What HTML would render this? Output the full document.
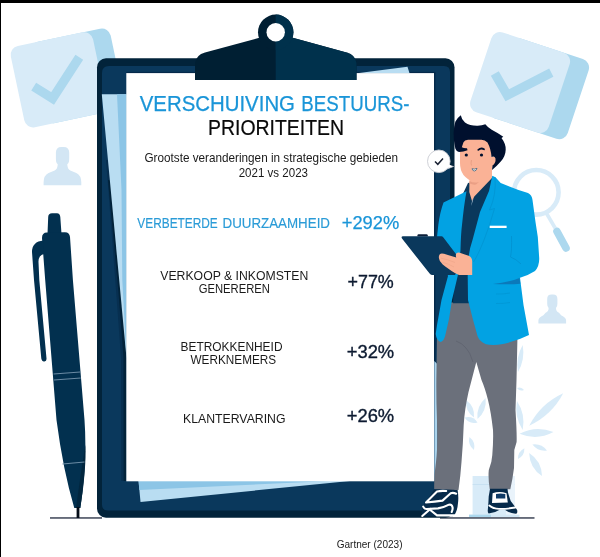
<!DOCTYPE html>
<html lang="nl">
<head>
<meta charset="utf-8">
<title>Verschuiving bestuursprioriteiten</title>
<style>
html,body{margin:0;padding:0;background:#fff;}
body{width:600px;height:557px;overflow:hidden;position:relative;font-family:"Liberation Sans",sans-serif;}
svg{position:absolute;left:0;top:0;display:block;}
text{font-family:"Liberation Sans",sans-serif;}
</style>
</head>
<body>
<svg width="600" height="557" viewBox="0 0 600 557">
<rect x="0" y="0" width="600" height="557" fill="#ffffff"/>

<!-- BG-DECOR -->
<g id="decor">
<g transform="translate(57.1 79.6) rotate(-11.9)"><rect x="-20" y="-41" width="81.500" height="83" rx="9" fill="#acd8ee"/><rect x="-40.500" y="-41" width="84" height="83" rx="9" fill="#d8ebf8"/></g>
<path d="M33.7 86.7 L52.6 98.5 L79.3 57.3" fill="none" stroke="#acd8ee" stroke-width="9.200"/>
<g transform="translate(521.1 81.75) rotate(18.4)"><rect x="-23" y="-41" width="83.500" height="84" rx="9" fill="#acd8ee"/><rect x="-42" y="-41" width="82.500" height="84" rx="9" fill="#d8ebf8"/></g>
<path d="M494.8 73.5 L507.3 95.2 L551.3 72.700" fill="none" stroke="#acd8ee" stroke-width="9.200"/>
<path d="M55.9 152.6 Q55.9 147.0 61.4 147.0 L63.6 147.0 Q69.2 147.0 69.2 152.6 L69.2 158.4 Q69.2 163.0 67.3 164.0 Q67.3 169.4 70.3 170.4 L76.3 172.9 Q81.3 175.4 81.3 182.2 L81.3 185.2 L43.6 185.2 L43.6 182.2 Q43.6 175.4 48.6 172.9 L54.7 170.4 Q57.7 169.4 57.7 164.0 Q55.9 163.0 55.9 158.4 Z" fill="#d3e6f4"/>
<path d="M547.2 298.9 Q547.2 294.6 551.5 294.6 L553.1 294.6 Q557.4 294.6 557.4 298.9 L557.4 303.8 Q557.4 307.1 556.0 308.1 Q556.0 311.7 559.0 312.7 L561.1 315.2 Q566.1 317.7 566.1 320.4 L566.1 323.4 L538.4 323.4 L538.4 320.4 Q538.4 317.7 543.4 315.2 L545.6 312.7 Q548.6 311.7 548.6 308.1 Q547.2 307.1 547.2 303.8 Z" fill="#d3e6f4"/>
<circle cx="536.3" cy="192.3" r="22.3" fill="none" stroke="#d8ebf8" stroke-width="4.6"/>
<path d="M546.3 213 L556 229.500" stroke="#d8ebf8" stroke-width="3.6" fill="none"/>
<path d="M557 231.500 L566 248" stroke="#acd8ee" stroke-width="7.6" stroke-linecap="round" fill="none"/>
<g fill="#d8ebf8">
<path d="M529.2 425.7 Q551.7 415.3 563.2 393.3 Q540.7 403.7 529.2 425.7 Z"/>
<path d="M519.5 433.8 Q536.9 440.9 553.5 432.1 Q536.1 425.0 519.5 433.8 Z"/>
<path d="M518.0 372.0 Q525.3 359.4 522.7 345.0 Q515.4 357.6 518.0 372.0 Z"/>
<path d="M517.0 401.0 Q514.0 416.7 522.7 430.0 Q525.7 414.3 517.0 401.0 Z"/>
<path d="M532.4 444.5 Q538.0 451.7 547.0 450.5 Q541.4 443.3 532.4 444.5 Z"/>
<path d="M529.2 453.0 Q529.5 467.9 542.0 476.0 Q541.7 461.1 529.2 453.0 Z"/>
<path d="M518.0 459.0 Q524.6 455.7 524.4 448.3 Q517.8 451.6 518.0 459.0 Z"/>
<path d="M517.0 388.0 Q519.7 391.9 524.0 390.0 Q521.3 386.1 517.0 388.0 Z"/>
<path d="M466.0 400.0 Q465.0 411.1 474.0 417.6 Q475.0 406.5 466.0 400.0 Z"/>
<path d="M485.6 398.0 Q476.0 406.3 477.5 419.0 Q487.1 410.7 485.6 398.0 Z"/>
<path d="M464.5 417.6 Q469.3 424.7 477.5 422.4 Q472.7 415.3 464.5 417.6 Z"/>
<path d="M469.4 437.0 Q467.5 445.0 474.0 450.0 Q475.9 442.0 469.4 437.0 Z"/>
</g>
<rect x="472.600" y="476" width="42" height="40" fill="#d8ebf8"/>
<rect x="472.600" y="484" width="42" height="0.8" fill="#c5dff0"/>
<rect x="506" y="476" width="8.600" height="40" fill="#e9f3fb"/>
<rect x="469" y="514.700" width="50.500" height="2.500" fill="#d3e8f6"/>
<rect x="469" y="514.700" width="22" height="2.500" fill="#acd8ee"/>
</g>

<!-- GROUND -->
<rect x="50" y="517.100" width="52" height="1.700" fill="#555b6b"/>
<rect x="440" y="517.100" width="94.500" height="1.700" fill="#555b6b"/>

<!-- PEN -->
<g id="pen">
  <path d="M47.500 234 L48.200 217 Q48.400 213.300 52 213.300 L57 213.200 Q60 213.200 60.300 217 L61.500 234 Z" fill="#02304f"/>
  <path d="M42 238 Q42 232.500 47 232.500 L65 232.300 Q69.500 232.300 70 237 L72.900 280 L84.500 420 Q87.500 462 80.300 508 L74.300 508 Q63 470 56.500 420 L45.200 280 Z" fill="#02304f"/>
  <path d="M43.500 240.500 Q32 241.500 32 252 L34 280 L41.300 358.500 Q42 362 44.500 361.500 Q46.700 361 46.500 358.500 L39.300 280 L38.500 262 Q38.300 255.500 44 254 Z" fill="#02304f"/>
  <path d="M80.300 508 Q86.500 468 85.300 445 Q80 478 76 508 Z" fill="#01263f"/>
  <path d="M53.500 374 L80.300 372 M54 380 L80.800 378 M62.500 464 L84.500 462" stroke="#6a8aa3" stroke-width="1.200" fill="none"/>
  <rect x="76.600" y="507" width="2.800" height="11" fill="#050d18"/>
</g>

<!-- BOARD -->
<g id="board">
  <rect x="97" y="58.300" width="357.500" height="459.400" rx="9" ry="9" fill="#02233a"/>
  <path d="M102 73 Q102 66 109 66 L444 66 Q450 66 450 72 L450 510.500 L108 510.500 Q102 510.500 102 504.500 Z" fill="#0a385c"/>
  <!-- shadow wedge + blue papers -->
  <path d="M106 160 L116 290 L121 358 L121.300 481 L126.500 481 L126.500 160 Z" fill="#072f50"/>
  <path d="M108 180 L118.300 290 L123.500 358 L123.700 481 L126.500 481 L126.500 180 Z" fill="#02233a"/>
  <path d="M101.800 94.300 L126.500 94.300 L126.500 358 Z" fill="#b9ddf2"/>
  <path d="M117 94.300 L126.500 94.300 L126.500 358 L122.300 280 L121.500 190 Z" fill="#8cc5e6"/>
  <path d="M138.500 480 L360 480 L140.500 502 Z" fill="#b9ddf2"/>
  <path d="M138.500 480 L352 480 L139.300 490 Z" fill="#8cc5e6"/>
  <rect x="126.300" y="71.900" width="309.200" height="1.500" fill="#04294a"/>
  <path d="M357 73.300 L407.500 66.800 L409.500 73.300 Z" fill="#b9ddf2"/>
  <rect x="126.300" y="73.100" width="307.700" height="408.200" fill="#ffffff"/>
  <rect x="434" y="72.800" width="1.500" height="408.500" fill="#04294a"/>
  <!-- clip -->
  <path d="M195 80 L195 63 Q196 55 205 52.500 L262 37 L290 37 L346.500 52.500 Q355.500 55 356.500 63 L356.500 80 Z" fill="#001f33"/>
  <circle cx="275.700" cy="32.300" r="17.700" fill="#001f33"/>
  <path d="M275.700 80 L275.700 37 L290 37 L346.500 52.500 Q355.500 55 356.500 63 L356.500 80 Z" fill="#00314c"/>
  <path d="M275.700 14.600 A17.700 17.700 0 0 1 275.700 50 Z" fill="#00314c"/>
  <circle cx="275.700" cy="32.300" r="9.200" fill="#ffffff"/>
</g>

<!-- TEXT -->
<g id="txt">
  <text y="110.700" font-size="22.200" fill="#1a95d8" stroke="#1a95d8" stroke-width="0.25"><tspan x="139.700" textLength="155.300" lengthAdjust="spacingAndGlyphs">VERSCHUIVING</tspan> <tspan x="301.300" textLength="108.200" lengthAdjust="spacingAndGlyphs">BESTUURS-</tspan></text>
  <text x="208" y="134.800" font-size="22.200" fill="#0a0a0a" stroke="#0a0a0a" stroke-width="0.2" textLength="136" lengthAdjust="spacingAndGlyphs">PRIORITEITEN</text>
  <text x="144.500" y="162.100" font-size="12.400" fill="#1a1a1a" textLength="253.500" lengthAdjust="spacingAndGlyphs">Grootste veranderingen in strategische gebieden</text>
  <text x="238.700" y="177.100" font-size="12.400" fill="#1a1a1a" textLength="69.300" lengthAdjust="spacingAndGlyphs">2021 vs 2023</text>
  <text y="228.100" font-size="14" fill="#2a9bd7" stroke="#2a9bd7" stroke-width="0.15"><tspan x="137.300" textLength="80.500" lengthAdjust="spacingAndGlyphs">VERBETERDE</tspan> <tspan x="222.500" textLength="107.500" lengthAdjust="spacingAndGlyphs">DUURZAAMHEID</tspan></text>
  <text x="341.700" y="229.400" font-size="18.700" fill="#1a95d8" stroke="#1a95d8" stroke-width="0.25" textLength="57.600" lengthAdjust="spacingAndGlyphs">+292%</text>
  <text x="160.300" y="280.400" font-size="12.600" fill="#1a1a1a" textLength="148" lengthAdjust="spacingAndGlyphs">VERKOOP &amp; INKOMSTEN</text>
  <text x="198.700" y="293.400" font-size="12.600" fill="#1a1a1a" textLength="71.300" lengthAdjust="spacingAndGlyphs">GENEREREN</text>
  <text x="347.500" y="287.900" font-size="18.600" fill="#0c1a30" stroke="#0c1a30" stroke-width="0.35" textLength="46.300" lengthAdjust="spacingAndGlyphs">+77%</text>
  <text x="180.500" y="351.100" font-size="12.600" fill="#1a1a1a" textLength="102" lengthAdjust="spacingAndGlyphs">BETROKKENHEID</text>
  <text x="190.500" y="364.100" font-size="12.600" fill="#1a1a1a" textLength="85.700" lengthAdjust="spacingAndGlyphs">WERKNEMERS</text>
  <text x="346.700" y="358.400" font-size="18.600" fill="#0c1a30" stroke="#0c1a30" stroke-width="0.35" textLength="47.500" lengthAdjust="spacingAndGlyphs">+32%</text>
  <text x="183" y="422.900" font-size="12.600" fill="#1a1a1a" textLength="102.500" lengthAdjust="spacingAndGlyphs">KLANTERVARING</text>
  <text x="346.700" y="422.400" font-size="18.600" fill="#0c1a30" stroke="#0c1a30" stroke-width="0.35" textLength="47.500" lengthAdjust="spacingAndGlyphs">+26%</text>
  <text x="336.700" y="547.800" font-size="10.900" fill="#1a1a1a" textLength="65.800" lengthAdjust="spacingAndGlyphs">Gartner (2023)</text>
</g>

<!-- MAN -->
<g id="man">
  <!-- light strip left of leg -->
  <path d="M434.300 361 L437.300 364 L437.500 481.300 L434.300 481.300 Z" fill="#a9d3ec"/>
  <!-- pants -->
  <path d="M448 302.500 L500 302.500 L517.500 335 L516.500 380 L515.500 410 Q517 435 516.600 442 L514.300 450 L514 468 Q512.500 480 510.300 489.300 L489.700 489 Q488 478 488.800 470 Q492 462 492.300 455 Q493.500 440 493 430 Q491 412 488 400 Q485 388 481.500 380 L476.300 362 L468.500 392 Q464.500 410 463.700 425 Q463 445 461.500 462 Q460.500 476 458.500 490 L434.200 489.500 Q433.800 476 436 462 Q438 445 437 420 Q436 395 436.500 370 L437 335 Z" fill="#6b707b"/>
  <path d="M456 341 Q462 343 466 348 Q470 352 473 362" fill="none" stroke="#5e626f" stroke-width="0.800"/>
  <!-- left shoe -->
  <path d="M434.200 489.200 L457.600 490 Q458.800 497 458 503 Q457.500 509 456 512 Q455 515 453 516.300 L421.900 516.300 Q421.500 511 422.300 506.600 Q424 504 426 502 Z" fill="#062a4a"/>
  <g fill="none" stroke="#ffffff" stroke-width="2.100" stroke-linecap="round" stroke-linejoin="round">
    <path d="M446.200 491 Q441 490.500 437 491.500 L426 502.500 Q435 501.800 442.500 500.600 L450.700 493.300 Q453 492.300 456.200 493.700"/>
    <path d="M423.200 506.600 Q424.500 509.300 427 509 L438 508.400 Q445 507 449 504.700 Q452 504 452.600 507.500 Q452.800 510 451.700 512"/>
    <path d="M422.300 516 L430.600 508.800"/>
    <path d="M430.600 510.200 L437 515.400 L455 515.400"/>
  </g>
  <!-- right shoe -->
  <path d="M490 488.700 L507.500 488.700 L508 492.400 Q509 496 510.700 501 Q514 505 517.200 510.200 Q517.600 512.500 516.700 513.600 Q510 514 504.500 509.500 L500 509.500 Q495 513 488.700 513.600 Q487.500 512.500 487.800 510 Q488.500 503 488.700 496.500 Q489.500 492 490 488.700 Z" fill="#062a4a"/>
  <path d="M492.600 493.300 Q499.500 490.800 506.500 493.300 L507.800 502.500 L492 503 Z" fill="#ffffff"/>
  <path d="M496 494 Q500.500 492.800 505.300 494 L505.300 498.500 L496 498.500 Z" fill="#0f3a66"/>
  <path d="M489.300 505.500 Q493 508.800 499 508.800 Q507 509 515.300 507.500" fill="none" stroke="#ffffff" stroke-width="1.800" stroke-linecap="round"/>
  <!-- shirt -->
  <path d="M468 183 L492 176 L494 200 L478 240 L470 303.300 L453 303.300 L456 240 L460 200 Z" fill="#0a385c"/>
  <!-- neck -->
  <path d="M469.500 172 L492 166 L492 178 L474.300 196.500 L472 201 L469.300 192 Z" fill="#fab296"/>
  <path d="M469.500 181 Q474 183.500 479 182 L476 184.500 Q473 185 469.500 183.500 Z" fill="#ea9f85"/>
  <path d="M472 201 L471.300 206 L473.500 198 Z" fill="#c9d7e6"/>
  <!-- jacket left panel -->
  <path d="M466.500 191.300 L443.500 202.500 Q440 212 438.300 225 L437 237 L448 276 L441.500 300 L437 325 L435.700 334 Q436.500 340.500 440.700 342 Q443.500 341 445 336.500 L449 319 L452 300 L457.700 276 L460.500 250 Q461 232 462 225 Q464 205 466.500 191.300 Z" fill="#02a2e3"/>
  <!-- jacket right panel + arm -->
  <path d="M492.300 175.800 L495.500 177.300 L500.700 182.900 L510 186.700 L518.500 190 L528 193 Q532 195 532.500 200 L535.500 222 L537.800 237 L539.200 258 Q539.500 266 535 271 Q529 275 520 277.700 L523.500 305 L529 335 Q517 341 503 344 Q493 346 486 344.300 Q479.500 341.500 477.500 336 L472.800 319 L468 300 L467.700 276 L468 262 Q469 250 472.500 240 L480 212 L489 191 Z" fill="#02a2e3"/>
  <path d="M493 284 Q508 282.300 519.600 277.900 L520.300 283.700 Q506 284.800 493 284 Z" fill="#0b79ba"/>
  <path d="M496 294 Q503 294.300 510 293 M496 303.500 Q503 303.800 510 302.500" fill="none" stroke="#0295d3" stroke-width="0.700"/>
  <path d="M495 177.300 Q496.500 195 489.500 210 L494.500 208.500 Q490 225 484 240 Q478 255 473.500 262" fill="none" stroke="#0292d0" stroke-width="0.700"/>
  <path d="M511.500 236 Q512 250 510.500 257 Q516 259 521 264" fill="none" stroke="#0290cf" stroke-width="0.800"/>
  <path d="M489.700 225.700 L506.600 225.700 L506.600 228 L489.700 228 Z" fill="#ffffff"/>
  <!-- small clipboard -->
  <path d="M417.500 236.500 L417.500 235.200 Q417.500 234.300 418.500 234.300 L426.500 234.300 Q427.700 234.300 427.700 235.200 L427.700 236.500 Z" fill="#0d1f3a"/>
  <path d="M403 236.300 L441.500 236.300 Q442.500 236.300 443.200 237.300 L462 262 L455 275 L432 275 Q430.500 275 429.600 273.600 L402 238.500 Q400.800 236.300 403 236.300 Z" fill="#0a385c"/>
  <!-- hand -->
  <path d="M439.600 254.400 Q441 252.800 444 253.800 L456.200 257.600 Q455.300 254.500 456.600 253 Q458.500 251.700 461.200 253.300 L468.500 255.700 Q472 257 472.200 261 L472.200 275 L459 275 Q455 273.500 452 271.300 L445.600 266.700 Q442 264.500 441.300 262.800 Q439.300 260.500 439 258.500 Q438.500 256 439.600 254.400 Z" fill="#fab296"/>
  <path d="M441 258.200 Q448 259.500 455 262.500 M442.500 262.300 Q449 264 454 267" fill="none" stroke="#eea689" stroke-width="0.700"/>
  <!-- face -->
  <path d="M460 138 L491 138 L491.500 157 Q496 155 496.300 160 Q496.500 165.500 492 166.500 Q489 174 484 178 Q479 182 474.500 181.500 Q468 180.500 463.500 175 Q460 170 460 163 Z" fill="#fab296"/>
  <!-- hair -->
  <path d="M460.800 115.200 Q461.500 119.500 465 122.500 Q470 126 477.700 125.800 Q482 125.500 485.300 124.200 Q488 127.500 491.700 129.800 Q497 132.500 503.300 136.800 L501.500 138 Q506 144 505.700 149.700 Q505.500 156 501 161.300 Q497 166 492 170 L492.500 165.500 Q496 163 495.500 158.500 Q494.500 155.500 491.500 157 Q491 149 487.500 142.500 Q485 139.800 481.500 139.800 L468 139.800 Q464.500 140 463.500 142.300 L461.800 147.300 Q464 148.500 467 148.300 L467.500 150.300 Q463.500 152 459 152 Q456 151 455.300 148.500 Q453.300 140 453.600 133 Q454 126 455.300 121.700 Q457.500 117.500 460.800 115.200 Z" fill="#00102e"/>
  <!-- brows/eyes/mouth -->
  <path d="M478.300 149.900 Q481 147.500 484 149.200" fill="none" stroke="#00102e" stroke-width="1.800" stroke-linecap="round"/>
  <circle cx="466.300" cy="155" r="1.600" fill="#00102e"/>
  <circle cx="481.500" cy="155" r="1.600" fill="#00102e"/>
  <path d="M471.500 160 Q470.500 163.500 471.500 165.500" fill="none" stroke="#e39a80" stroke-width="0.800"/>
  <path d="M472 168.700 Q474.500 169.800 477 168.300 Q476.300 171 474.300 171 Q472.500 170.800 472 168.700 Z" fill="#ffffff" stroke="#2a5a78" stroke-width="0.700"/>
  <!-- speech bubble -->
  <path d="M449.500 165.500 L453.500 166.500 L447 169 Z" fill="#ffffff" stroke="#c9ccd2" stroke-width="0.800"/>
  <circle cx="438.800" cy="161.300" r="11.300" fill="#ffffff" stroke="#c9ccd2" stroke-width="0.900"/>
  <path d="M447.500 164 L452.500 166.300 L446.500 168.300 Z" fill="#ffffff"/>
  <path d="M435 161.500 L437.800 164.300 L443 158.500" fill="none" stroke="#1a2233" stroke-width="1.500"/>
</g>

<!-- BORDERS -->
<rect x="0" y="0" width="600" height="3" fill="#000"/>
<rect x="0" y="0" width="1" height="557" fill="#000"/>
</svg>
</body>
</html>
